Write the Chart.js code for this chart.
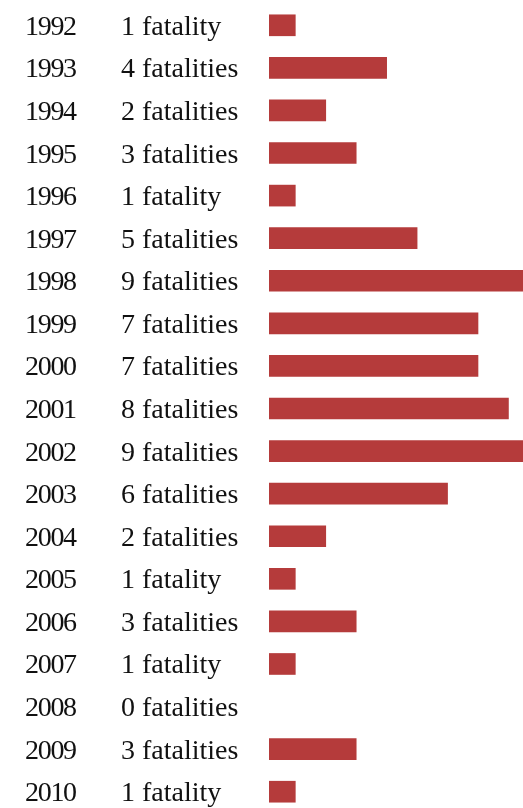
<!DOCTYPE html>
<html>
<head>
<meta charset="utf-8">
<script src="https://cdn.jsdelivr.net/npm/chart.js@4/dist/chart.umd.min.js"></script>
<style>
  html, body { margin: 0; padding: 0; background: #ffffff; overflow: hidden; }
  #wrap { position: absolute; left: 0; top: 0; width: 523px; height: 813px; }
</style>
</head>
<body>
<div id="wrap"><canvas id="c" width="523" height="813"></canvas></div>
<script>
const years = ['1992','1993','1994','1995','1996','1997','1998','1999','2000','2001','2002','2003','2004','2005','2006','2007','2008','2009','2010'];
const fatalities = [1,4,2,3,1,5,9,7,7,8,9,6,2,1,3,1,0,3,1];
const fatalityLabels = fatalities.map(n => n + ' ' + (n === 1 ? 'fatality' : 'fatalities'));

const textColumns = {
  id: 'textColumns',
  afterDraw(chart) {
    const ctx = chart.ctx;
    const y = chart.scales.y;
    ctx.save();
    ctx.fillStyle = '#111111';
    ctx.textAlign = 'left';
    ctx.textBaseline = 'alphabetic';
    ctx.font = '28px "Liberation Serif", serif';
    years.forEach((yr, i) => {
      const py = y.getPixelForValue(i) + 9.5;
      if ('letterSpacing' in ctx) ctx.letterSpacing = '-1.3px';
      ctx.fillText(yr, 25, py);
      if ('letterSpacing' in ctx) ctx.letterSpacing = '0px';
      ctx.fillText(fatalityLabels[i], 121, py);
    });
    ctx.restore();
  }
};

new Chart(document.getElementById('c'), {
  type: 'bar',
  data: {
    labels: years,
    datasets: [{
      data: fatalities,
      backgroundColor: '#b53b3b',
      borderWidth: 0,
      barThickness: 21,
      clip: 0
    }]
  },
  options: {
    indexAxis: 'y',
    responsive: false,
    animation: false,
    devicePixelRatio: 1,
    layout: { padding: { left: 269, right: 0, top: 4, bottom: 0 } },
    plugins: { legend: { display: false }, tooltip: { enabled: false } },
    scales: {
      x: { display: false, min: 0.136, max: 8.478 },
      y: { display: false, offset: true }
    }
  },
  plugins: [textColumns]
});
</script>
</body>
</html>
